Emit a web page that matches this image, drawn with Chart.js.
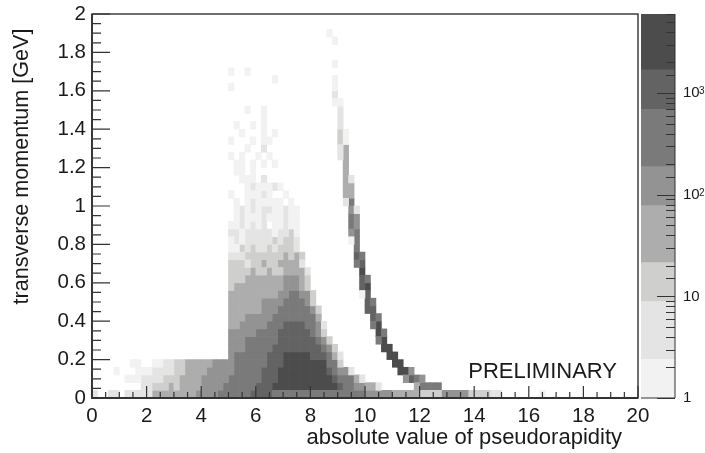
<!DOCTYPE html>
<html>
<head>
<meta charset="utf-8">
<style>
html,body{margin:0;padding:0;background:#fff;overflow:hidden}
#wrap{position:relative;width:705px;height:453px}
canvas{position:absolute;top:0}
#main{left:0}
#bar{left:641px}
</style>
<script src="https://cdn.jsdelivr.net/npm/chart.js@4"></script>
</head>
<body>
<div id="wrap">
<canvas id="main" width="705" height="453" style="width:705px;height:453px"></canvas>
<canvas id="bar" width="64" height="453" style="width:64px;height:453px"></canvas>
</div>
<script>
const xTitle = "absolute value of pseudorapidity";
const yTitle = "transverse momentum [GeV]";
const note = "PRELIMINARY";
const etaBinWidth = 0.2;
const ptBinWidth = 0.04;
const bandEdges = [1, 2.4, 8.9, 21.5, 78, 189, 693, 1690, 6000];
const bandColors = ["#f2f2f2","#e4e4e4","#cfcfcd","#adadad","#939393","#7a7a7a","#636363","#4c4c4c"];
// Each row is one pT bin (bottom upward); "a-b:n" = eta bins a..b fall in colour band n.
const rows = [
"0:2 3-4:2 6-10:2 11-18:4 19-22:5 23-28:6 29-32:7 33-49:6 50-54:5 55-59:4 60-63:3 64-68:5 69-72:3 73-74:2 82:1",
"9-10:2 11:3 12-13:3 14:4 15:3 16-19:4 20-23:5 24-29:6 30-32:7 33-44:8 45:7 46-47:6 48-49:5 50-51:4 52:2 59:4 60-63:6",
"6-8:1 9-10:2 11-12:2 13-15:3 16-19:4 20-24:5 25-30:6 31-33:7 34-43:8 44:7 45-47:6 48:4 49:2 57:5 58:7 59:6 60:5",
"4:1 8-10:1 11-14:2 15-16:3 17-20:4 21-25:5 26-30:6 31-33:7 34-42:8 43:7 44:6 45-46:5 47:2 56-57:8 58:5",
"7-8:1 11-12:1 13-14:2 15-16:3 17-21:4 22-25:5 26-31:6 32-34:7 35-42:8 43-44:6 45:3 55-56:8",
"25:5 26-31:6 32-34:7 35-39:8 40-42:7 43:6 44:4 45:2 54-55:8",
"25-27:5 28-32:6 33-41:7 42:6 43:5 44:3 53-54:8",
"25-27:5 28-33:6 34-40:7 41:6 42:5 43:3 52:6 53:8",
"25-29:5 30-33:6 34-39:7 40:6 41:5 42:3 52:8 53:6",
"25-26:4 27-31:5 32-34:6 35-38:7 39-40:6 41:5 42:2 51:6 52:8",
"25-27:4 28-32:5 33-40:6 41:4 51:7 52:6",
"25-30:4 31-33:5 34-39:6 40:5 41:3 50:7 51:7",
"25-30:4 31-34:5 35-38:6 39:5 40:3 50:7 51:6",
"25-33:4 34-35:5 36-37:6 38-39:5 40:3 49:1 50:7",
"25:3 26-34:4 35-37:5 38:4 39:3 49:7 50:8",
"25-27:3 28-34:4 35-37:5 38:4 39:3 49:7 50:6",
"25-28:3 29:4 30-31:3 32:4 33-34:3 35-38:4 39:2 49:8",
"25-27:3 28:2 29-30:3 31:4 32-33:3 34-37:4 38:2 48:6 49:7",
"25-27:2 28-34:3 35:4 36:3 37:4 38:3 48:7 49:6",
"25-26:1 27:3 28:2 29:3 30-31:2 32:3 33:2 34-36:3 37:2 48:6",
"25:1 26:2 27:1 28-32:2 33:3 34:2 35-36:3 37:2 47:1 48:6",
"25-26:2 27:1 28-32:2 33:1 34-35:2 36:3 37:1 47:5 48:6",
"25-26:1 27:2 28:1 29:2 30:1 31:2 33-34:1 35:2 36-37:1 47:6 48:5",
"26:1 27:2 28-30:1 31:2 32-34:1 35:2 36-37:1 47:6 48:5",
"26:1 27:2 28:1 29:2 30:1 31-32:2 33-34:1 35:2 36-37:1 47:5 48:2",
"26:1 28:1 29:2 30-34:1 36:1 46:2 47:6",
"25:1 28-30:1 31:2 32:1 35:1 46-47:4",
"28:1 29:2 30-32:1 33:2 34:1 46-47:4",
"27-29:1 31:2 46:4 47:2",
"26-27:1 29:1 46:4",
"26-27:1 29:1 31:1 33:1 46:4",
"25:1 27:1 30:1 32:1 45:2 46:4",
"28:1 31:2 45:2 46:4",
"25:1 29:1 31-32:1 45:3 46:1",
"27:1 31:1 33:1 45:3 46:1",
"26:1 29:1 31:1 45:2",
"31:1 45:2",
"28:1 31:1 45:2",
"44-45:1",
"44:2",
"25:1 44:1",
"33:1 44:1",
"25:1 28:1",
"44:1",
"",
"",
"44:1",
"43:1"
];
const etaTicksMajor = 2;
const ptTicksMajor = 0.2;
const zTickBases = {1:"1",10:"10",100:"10",1000:"10"};
const zTickExponents = {100:"2",1000:"3"};

const fontFamily = '"Liberation Sans", Arial, sans-serif';
const ink = "#333333";
const near = (v, m) => Math.abs(v / m - Math.round(v / m)) < 1e-6;

const cells = bandColors.map(() => []);
rows.forEach((row, j) => {
  row.split(" ").filter(Boolean).forEach(tok => {
    const [range, band] = tok.split(":");
    const [a, b] = range.split("-").map(Number);
    for (let c = a; c <= (b === undefined ? a : b); c++) {
      cells[+band - 1].push({x: (c + 0.5) * etaBinWidth, y: [j * ptBinWidth, (j + 1) * ptBinWidth]});
    }
  });
});

const decor = {
  id: "decor",
  afterDatasetsDraw(chart) {
    const {ctx, chartArea: a, scales: {x, y}} = chart;
    ctx.save();
    ctx.strokeStyle = ink;
    ctx.lineWidth = 1.2;
    ctx.beginPath();
    x.ticks.forEach(t => {
      const px = x.getPixelForValue(t.value);
      const len = near(t.value, etaTicksMajor) ? 12 : 6;
      ctx.moveTo(px, a.bottom); ctx.lineTo(px, a.bottom - len);
    });
    y.ticks.forEach(t => {
      const py = y.getPixelForValue(t.value);
      const len = near(t.value, ptTicksMajor) ? 18 : 9;
      ctx.moveTo(a.left, py); ctx.lineTo(a.left + len, py);
    });
    ctx.stroke();
    ctx.lineWidth = 1.4;
    ctx.strokeRect(a.left, a.top, a.right - a.left, a.bottom - a.top);
    ctx.lineWidth = 1.8;
    ctx.beginPath();
    ctx.moveTo(a.left, a.top); ctx.lineTo(a.left, a.bottom); ctx.lineTo(a.right, a.bottom);
    ctx.stroke();

    ctx.fillStyle = "#1a1a1a";
    ctx.font = "22px " + fontFamily;
    ctx.textAlign = "right";
    ctx.textBaseline = "alphabetic";
    ctx.fillText(note, x.getPixelForValue(19.23), y.getPixelForValue(0.104));
    ctx.fillText(xTitle, 622, 444);
    ctx.font = "21.6px " + fontFamily;
    ctx.translate(28, 166.5);
    ctx.rotate(-Math.PI / 2);
    ctx.textAlign = "center";
    ctx.fillText(yTitle, 0, 0);
    ctx.restore();
  }
};

new Chart(document.getElementById("main"), {
  type: "bar",
  data: {
    datasets: cells.map((d, i) => ({
      label: "band " + (i + 1),
      data: d,
      backgroundColor: bandColors[i],
      borderWidth: 0,
      barPercentage: 1,
      categoryPercentage: 1,
      grouped: false
    }))
  },
  plugins: [decor],
  options: {
    responsive: false,
    animation: false,
    layout: {padding: {left: 0, top: 14, right: 67, bottom: 0}},
    plugins: {legend: {display: false}, tooltip: {enabled: false}, title: {display: false}},
    scales: {
      x: {
        type: "linear", min: 0, max: 20, offset: false,
        grid: {display: false, drawTicks: false, offset: false},
        border: {display: false},
        afterFit: s => { s.height = 55; s.paddingLeft = 0; s.paddingRight = 0; },
        ticks: {
          stepSize: 0.5, autoSkip: false, maxRotation: 0, padding: 6,
          color: "#1a1a1a", font: {family: fontFamily, size: 20.5},
          callback: v => near(v, etaTicksMajor) ? String(Math.round(v)) : ""
        }
      },
      y: {
        type: "linear", min: 0, max: 2,
        grid: {display: false, drawTicks: false},
        border: {display: false},
        afterFit: s => { s.width = 92; s.paddingTop = 0; s.paddingBottom = 0; },
        ticks: {
          stepSize: 0.05, autoSkip: false, padding: 6,
          color: "#1a1a1a", font: {family: fontFamily, size: 20.5},
          callback: v => near(v, ptTicksMajor) ? String(+v.toFixed(1)) : ""
        }
      }
    }
  }
});

const barDecor = {
  id: "barDecor",
  afterDatasetsDraw(chart) {
    const {ctx, chartArea: a, scales: {y}} = chart;
    ctx.save();
    ctx.strokeStyle = ink;
    ctx.lineWidth = 1;
    ctx.beginPath();
    y.ticks.forEach(t => {
      const py = Math.round(y.getPixelForValue(t.value)) + 0.5;
      const major = zTickBases[t.value] !== undefined;
      ctx.moveTo(a.right, py); ctx.lineTo(a.right - (major ? 18 : 9), py);
    });
    ctx.moveTo(a.right, a.top); ctx.lineTo(a.right, a.bottom);
    ctx.lineTo(a.left, a.bottom);
    ctx.stroke();
    ctx.fillStyle = "#1a1a1a";
    ctx.font = "10px " + fontFamily;
    ctx.textAlign = "left";
    ctx.textBaseline = "alphabetic";
    Object.keys(zTickExponents).forEach(v => {
      ctx.fillText(zTickExponents[v], a.right + 24, y.getPixelForValue(+v) + 1);
    });
    ctx.restore();
  }
};

new Chart(document.getElementById("bar"), {
  type: "bar",
  data: {
    labels: ["counts"],
    datasets: bandColors.map((c, i) => ({
      data: [[bandEdges[i], bandEdges[i + 1]]],
      backgroundColor: c,
      borderWidth: 0,
      barPercentage: 1,
      categoryPercentage: 1,
      grouped: false
    }))
  },
  plugins: [barDecor],
  options: {
    responsive: false,
    animation: false,
    layout: {padding: {left: 0, top: 14, right: 0, bottom: 55}},
    plugins: {legend: {display: false}, tooltip: {enabled: false}},
    scales: {
      x: {display: false},
      y: {
        type: "logarithmic", position: "right",
        min: bandEdges[0], max: bandEdges[bandEdges.length - 1],
        grid: {display: false, drawTicks: false},
        border: {display: false},
        afterFit: s => { s.width = 30; s.paddingTop = 0; s.paddingBottom = 0; },
        ticks: {
          autoSkip: false, padding: 8, color: "#1a1a1a", maxRotation: 0,
          font: {family: fontFamily, size: 15},
          callback: v => zTickBases[v] || ""
        }
      }
    }
  }
});
</script>
</body>
</html>
